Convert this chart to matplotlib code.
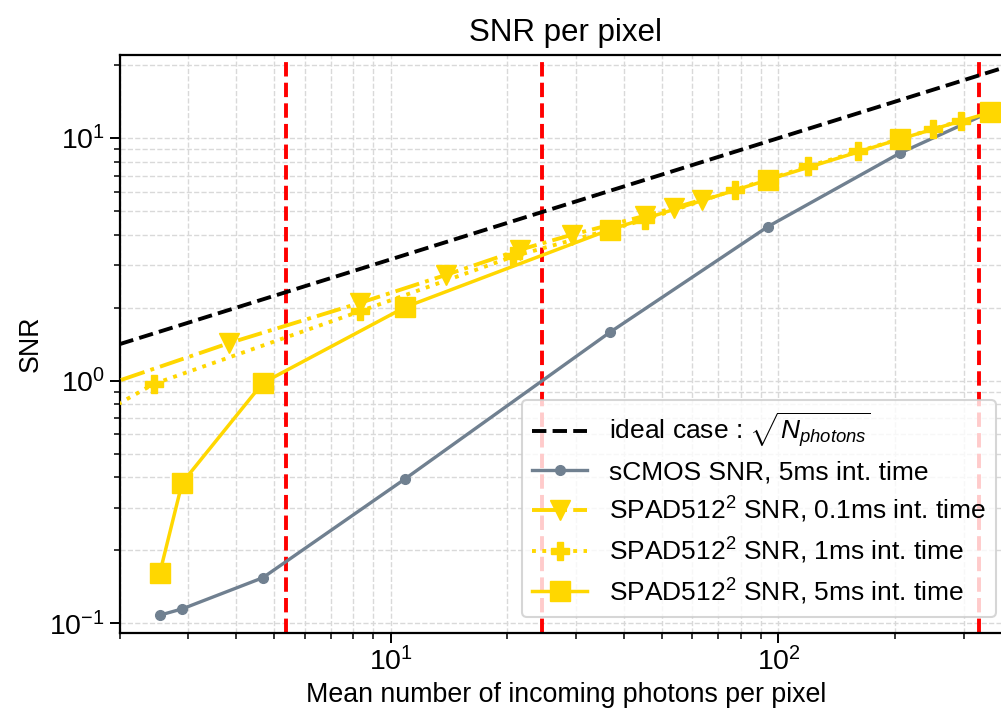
import numpy as np
import matplotlib
matplotlib.use("Agg")
import matplotlib.pyplot as plt

plt.rcParams['font.family'] = ['Liberation Sans', 'DejaVu Sans']
plt.rcParams['mathtext.fontset'] = 'custom'
plt.rcParams['mathtext.rm'] = 'Liberation Sans'
plt.rcParams['mathtext.it'] = 'Liberation Sans:italic'
plt.rcParams['mathtext.bf'] = 'Liberation Sans:bold'

# ---- data ----
photons_main = [2.54, 2.90, 4.68, 10.9, 36.7, 94.0, 205.6, 351.0]
snr_scmos_5ms = [0.108, 0.1146, 0.154, 0.394, 1.58, 4.32, 8.67, 12.8]
snr_spad_5ms = [0.161, 0.379, 0.978, 2.01, 4.19, 6.73, 9.91, 12.75]

photons_01ms = [1.6, 3.84, 8.32, 13.9, 21.5, 29.4, 45.2, 53.7, 63.5]
snr_spad_01ms = [0.887, 1.43, 2.09, 2.73, 3.46, 4.00, 4.78, 5.15, 5.57]

photons_1ms = [1.6, 2.45, 8.32, 20.7, 45.2, 77.1, 119.2, 160.4, 250.4, 295.0]
snr_spad_1ms = [0.66, 0.969, 1.93, 3.25, 4.6, 6.12, 7.64, 8.81, 10.9, 11.8]

ideal_photons = [2.0, 400.0]
ideal_snr = [1.414, 20.0]

red_lines = [5.38, 24.5, 328.0]

labels = [
    r"ideal case : $\sqrt{N_{photons}}$",
    "sCMOS SNR, 5ms int. time",
    r"SPAD512$^2$ SNR, 0.1ms int. time",
    r"SPAD512$^2$ SNR, 1ms int. time",
    r"SPAD512$^2$ SNR, 5ms int. time",
]

gold = "#FFD700"
slate = "#708090"

fig = plt.figure(figsize=(10.01, 7.22), dpi=100)
ax = fig.add_axes([0.1194, 0.1233, 0.8916, 0.8005])

ax.set_xscale('log')
ax.set_yscale('log')

ax.plot(ideal_photons, ideal_snr, ls='--', color='black', lw=2.8, label=labels[0], zorder=3)
ax.plot(photons_main, snr_scmos_5ms, '-o', color=slate, lw=2.4, ms=7, label=labels[1], zorder=3)
ax.plot(photons_01ms, snr_spad_01ms, ls='-.', marker='v', color=gold, lw=2.8, ms=14, label=labels[2], zorder=3)
ax.plot(photons_1ms, snr_spad_1ms, ls=':', marker='P', color=gold, lw=2.8, ms=13, label=labels[3], zorder=3)
ax.plot(photons_main, snr_spad_5ms, ls='-', marker='s', color=gold, lw=2.5, ms=14, label=labels[4], zorder=3)

for xv in red_lines:
    ax.axvline(xv, color='red', ls='--', lw=2.8, zorder=2)

ax.set_xlim(2.0, 400.0)
ax.set_ylim(0.0912, 22.0)

ax.grid(True, which='both', ls='--', color='#d9d9d9', lw=1.0, zorder=0)
ax.set_axisbelow(True)

for s in ax.spines.values():
    s.set_linewidth(1.6)

ax.tick_params(which='major', direction='out', length=7, width=1.4, labelsize=20.5)
ax.tick_params(which='minor', direction='out', length=4, width=1.1)

ax.set_title("SNR per pixel", fontsize=22.5, pad=10)
ax.set_xlabel("Mean number of incoming photons per pixel", fontsize=19.3)
ax.set_ylabel("SNR", fontsize=19.3)

leg = ax.legend(loc='lower right', fontsize=19, framealpha=0.8, edgecolor='#cccccc',
                handlelength=2.1, borderaxespad=0.6, labelspacing=0.4)
leg.get_frame().set_linewidth(1.5)

fig.savefig("out.png", dpi=100)
